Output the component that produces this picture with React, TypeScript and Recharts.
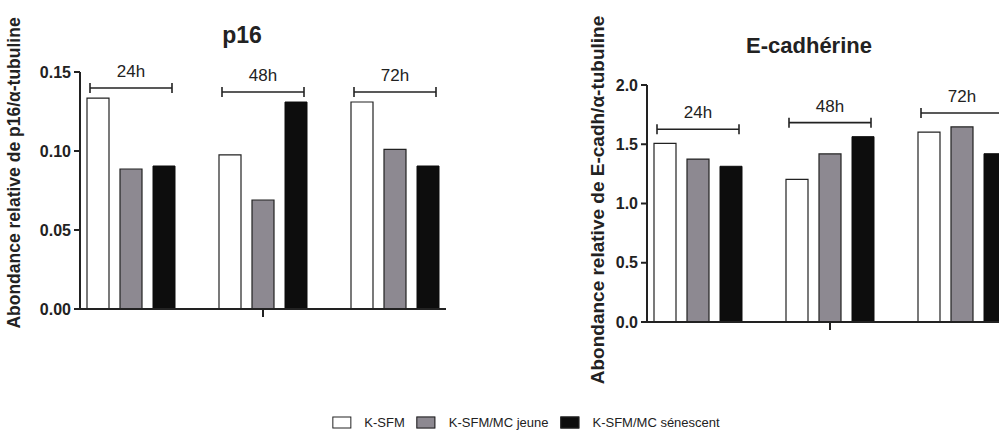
import React from 'react';
import { BarChart, Bar, XAxis, YAxis, LabelList } from 'recharts';

const GROUPS = ['24h', '48h', '72h'];

const P16_KSFM = [0.1335, 0.0975, 0.131];
const P16_JEUNE = [0.0886, 0.069, 0.101];
const P16_SENESCENT = [0.0905, 0.131, 0.0905];
const P16_TICKS = [0, 0.05, 0.1, 0.15];

const ECAD_KSFM = [1.508, 1.204, 1.603];
const ECAD_JEUNE = [1.375, 1.418, 1.646];
const ECAD_SENESCENT = [1.314, 1.564, 1.42];
const ECAD_TICKS = [0, 0.5, 1.0, 1.5, 2.0];

const SERIES_NAMES = ['K-SFM', 'K-SFM/MC jeune', 'K-SFM/MC sénescent'];

const p16Data = GROUPS.map((g, i) => ({ g, ksfm: P16_KSFM[i], jeune: P16_JEUNE[i], sen: P16_SENESCENT[i] }));
const ecadData = GROUPS.map((g, i) => ({ g, ksfm: ECAD_KSFM[i], jeune: ECAD_JEUNE[i], sen: ECAD_SENESCENT[i] }));

const FONT = '"Liberation Sans", Arial, Helvetica, sans-serif';
const INK = '#222222';
const GREY = '#8d8991';
const BLACK = '#0d0d0d';

// bracket + "24h" label drawn above each group, hung off the middle bar
function makeBracket(data: any[], gap: number) {
  return (props: any) => {
    const vb = props.viewBox || props;
    const i = props.index;
    const row = data[i];
    if (!row || !vb.height) return null;
    const base = vb.y + vb.height;
    const pxPerUnit = vb.height / row.jeune;
    const top = base - Math.max(row.ksfm, row.jeune, row.sen) * pxPerUnit;
    const y = top - gap;
    const cx = vb.x + vb.width / 2;
    const half = 41;
    return (
      <g stroke={INK} strokeWidth={1.6}>
        <line x1={cx - half} x2={cx + half} y1={y} y2={y} />
        <line x1={cx - half} x2={cx - half} y1={y - 5} y2={y + 5} />
        <line x1={cx + half} x2={cx + half} y1={y - 5} y2={y + 5} />
        <text x={cx} y={y - 11} textAnchor="middle" stroke="none" fill={INK}
          style={{ fontFamily: FONT, fontSize: 17 }}>{row.g}</text>
      </g>
    );
  };
}

const midTick = (props: any) => {
  if (props.index !== 1) return <g />;
  return <line x1={props.x} x2={props.x} y1={props.y} y2={props.y + 8} stroke={INK} strokeWidth={2} />;
};

function yLabel(text: string, x: number, y: number, size: number) {
  return () => (
    <text x={x} y={y} transform={`rotate(-90 ${x} ${y})`} textAnchor="middle" fill={INK}
      style={{ fontFamily: FONT, fontSize: size, fontWeight: 'bold' }}>{text}</text>
  );
}

function Panel({ data, ticks, fmt, margin, label, gap, height }: any) {
  return (
    <BarChart width={470} height={height} data={data} margin={margin} barSize={22} barGap={11}>
      <XAxis dataKey="g" padding={{ left: -15, right: -15 }} tickLine={false} tickSize={0} tickMargin={0}
        tick={midTick} axisLine={{ stroke: INK, strokeWidth: 2 }} height={20} interval={0} />
      <YAxis width={60} domain={[ticks[0], ticks[ticks.length - 1]]} ticks={ticks} interval={0}
        tickFormatter={fmt} tickSize={6} tickMargin={3}
        axisLine={{ stroke: INK, strokeWidth: 2 }} tickLine={{ stroke: INK, strokeWidth: 2 }}
        tick={{ fill: INK, fontSize: 16, fontWeight: 'bold', fontFamily: FONT }}
        label={{ content: label }} />
      <Bar dataKey="ksfm" name={SERIES_NAMES[0]} fill="#ffffff" stroke={INK} strokeWidth={1.2} isAnimationActive={false} />
      <Bar dataKey="jeune" name={SERIES_NAMES[1]} fill={GREY} stroke={INK} strokeWidth={1.2} isAnimationActive={false}>
        <LabelList dataKey="jeune" content={makeBracket(data, gap)} />
      </Bar>
      <Bar dataKey="sen" name={SERIES_NAMES[2]} fill={BLACK} stroke={BLACK} strokeWidth={1} isAnimationActive={false} />
    </BarChart>
  );
}

function LegendItem({ fill, text }: { fill: string; text: string }) {
  return (
    <span style={{ display: 'inline-flex', alignItems: 'center', marginRight: 12 }}>
      <span style={{ width: 17, height: 10, background: fill, border: `1px solid ${INK}`, marginRight: 13, display: 'inline-block' }} />
      <span>{text}</span>
    </span>
  );
}

export default function App() {
  return (
    <div style={{ position: 'absolute', left: 0, top: 0, width: 999, height: 440, overflow: 'hidden', background: '#fff', fontFamily: FONT, color: INK }}>
      <div style={{ position: 'absolute', left: 0, top: 0 }}>
        <Panel data={p16Data} ticks={P16_TICKS} fmt={(v: number) => v.toFixed(2)} gap={10} height={350}
          margin={{ top: 72, right: 24, left: 20, bottom: 21 }}
          label={yLabel('Abondance relative de p16/α-tubuline', 20, 173, 17.5)} />
      </div>
      <div style={{ position: 'absolute', left: 560, top: 0 }}>
        <Panel data={ecadData} ticks={ECAD_TICKS} fmt={(v: number) => v.toFixed(1)} gap={14} height={420}
          margin={{ top: 85, right: 17, left: 27, bottom: 78 }}
          label={yLabel('Abondance relative de E-cadh/α-tubuline', 44, 200, 19)} />
      </div>
      <div style={{ position: 'absolute', left: 242, top: 47, transform: 'translate(-50%, -100%)', fontWeight: 'bold', fontSize: 23, lineHeight: 1 }}>p16</div>
      <div style={{ position: 'absolute', left: 809, top: 57, transform: 'translate(-50%, -100%)', fontWeight: 'bold', fontSize: 22, lineHeight: 1, whiteSpace: 'nowrap' }}>E-cadhérine</div>
      <div style={{ position: 'absolute', left: 532, top: 422, transform: 'translate(-50%, -50%)', fontSize: 13, whiteSpace: 'nowrap', display: 'flex' }}>
        <LegendItem fill="#ffffff" text={SERIES_NAMES[0]} />
        <LegendItem fill={GREY} text={SERIES_NAMES[1]} />
        <LegendItem fill={BLACK} text={SERIES_NAMES[2]} />
      </div>
    </div>
  );
}
